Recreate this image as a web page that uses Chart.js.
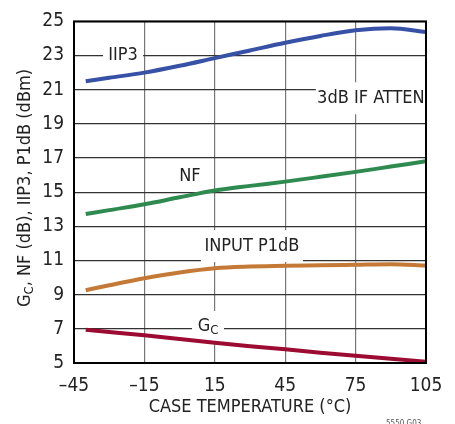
<!DOCTYPE html>
<html>
<head>
<meta charset="utf-8">
<script src="https://cdn.jsdelivr.net/npm/chart.js@4.4.1/dist/chart.umd.min.js"></script>
<style>
  html, body { margin: 0; padding: 0; background: #fff; }
  canvas { display: block; }
</style>
</head>
<body>
<canvas id="c" width="455" height="424"></canvas>
<script>
const temps = [-40, -30, -15, 0, 15, 30, 45, 60, 75, 90, 105];
const iip3 = [21.5, 21.7, 22.0, 22.4, 22.85, 23.3, 23.75, 24.15, 24.48, 24.6, 24.38];
const nf = [13.72, 13.95, 14.29, 14.7, 15.1, 15.37, 15.62, 15.9, 16.19, 16.5, 16.81];
const p1db = [9.26, 9.55, 9.96, 10.3, 10.55, 10.65, 10.7, 10.72, 10.75, 10.78, 10.7];
const gc = [6.95, 6.82, 6.62, 6.4, 6.18, 5.98, 5.8, 5.6, 5.42, 5.25, 5.08];

const xTicks = [-45, -15, 15, 45, 75, 105];
const yTicks = [5, 7, 9, 11, 13, 15, 17, 19, 21, 23, 25];

// in-plot labels: text, anchor (data units), half box size (px)
const labels = [
  { text: 'IIP3', x: -24.1, y: 23.0, bw: 20, bh: 12 },
  { text: '3dB IF ATTEN', x: 81.5, y: 20.5, bw: 55, bh: 16 },
  { text: 'NF', x: 4.4, y: 15.94, bw: 15, bh: 15 },
  { text: 'INPUT P1dB', x: 30.8, y: 11.85, bw: 51, bh: 16 },
  { text: 'G', sub: 'C', x: 12.1, y: 7.17, bw: 16, bh: 15 }
];

const FONT = '"Liberation Sans Narrow", "DejaVu Sans Condensed", "Liberation Sans", sans-serif';
const TXT = '#222';

function pts(ys) { return temps.map((t, i) => ({ x: t, y: ys[i] })); }

const annot = {
  id: 'annot',
  beforeDatasetsDraw(chart) {
    const { ctx, scales: { x, y } } = chart;
    ctx.save();
    ctx.font = '18px ' + FONT;
    ctx.textBaseline = 'middle';
    labels.forEach(l => {
      const px = x.getPixelForValue(l.x), py = y.getPixelForValue(l.y);
      ctx.fillStyle = '#fff';
      ctx.fillRect(px - l.bw, py - l.bh, l.bw * 2, l.bh * 2);
      ctx.fillStyle = TXT;
      if (l.sub) {
        const w = ctx.measureText(l.text).width;
        ctx.font = '13px ' + FONT;
        const ws = ctx.measureText(l.sub).width;
        const sx = px - (w + ws) / 2;
        ctx.font = '18px ' + FONT;
        ctx.textAlign = 'left';
        ctx.fillText(l.text, sx, py);
        ctx.font = '13px ' + FONT;
        ctx.fillText(l.sub, sx + w, py + 5);
        ctx.font = '18px ' + FONT;
      } else {
        ctx.textAlign = 'center';
        ctx.fillText(l.text, px, py);
      }
    });
    ctx.restore();
  },
  afterDraw(chart) {
    const { ctx, chartArea: a } = chart;
    ctx.save();
    ctx.strokeStyle = '#000';
    ctx.lineWidth = 2;
    ctx.strokeRect(a.left, a.top, a.right - a.left, a.bottom - a.top);

    ctx.fillStyle = TXT;
    // x title
    ctx.font = '18px ' + FONT;
    ctx.textAlign = 'center';
    ctx.textBaseline = 'middle';
    ctx.fillText('CASE TEMPERATURE (\u00B0C)', 250, 407);

    // y title with subscript
    ctx.translate(25, 188);
    ctx.rotate(-Math.PI / 2);
    const rest = ', NF (dB), IIP3, P1dB (dBm)';
    ctx.font = '18px ' + FONT;
    const wG = ctx.measureText('G').width;
    const wR = ctx.measureText(rest).width;
    ctx.font = '13px ' + FONT;
    const wC = ctx.measureText('C').width;
    let sx = -(wG + wC + wR) / 2;
    ctx.textAlign = 'left';
    ctx.font = '18px ' + FONT;
    ctx.fillText('G', sx, 0);
    ctx.font = '13px ' + FONT;
    ctx.fillText('C', sx + wG, 5);
    ctx.font = '18px ' + FONT;
    ctx.fillText(rest, sx + wG + wC, 0);
    ctx.restore();

    // figure number, cut off at the bottom edge
    ctx.save();
    ctx.fillStyle = '#555';
    ctx.font = '8px ' + FONT;
    ctx.textAlign = 'left';
    ctx.textBaseline = 'top';
    ctx.fillText('5550 G03', 386, 420);
    ctx.restore();
  }
};

const line = (data, color) => ({
  data: pts(data),
  borderColor: color,
  borderWidth: 4,
  pointRadius: 0,
  fill: false,
  cubicInterpolationMode: 'monotone'
});

new Chart(document.getElementById('c'), {
  type: 'line',
  data: {
    datasets: [
      line(iip3, '#3651a5'),
      line(nf, '#2f8a4f'),
      line(p1db, '#c47a36'),
      line(gc, '#9c0b31')
    ]
  },
  options: {
    responsive: false,
    animation: false,
    layout: { padding: { top: 12, right: 29, left: 0, bottom: 0 } },
    plugins: { legend: { display: false }, tooltip: { enabled: false } },
    scales: {
      x: {
        type: 'linear',
        min: -45, max: 105,
        afterBuildTicks: s => { s.ticks = xTicks.map(v => ({ value: v })); },
        afterFit: s => { s.height = 61; },
        grid: { color: '#777', lineWidth: 1.2, drawTicks: false },
        border: { display: false },
        ticks: {
          padding: 12,
          color: TXT,
          font: { family: FONT, size: 19 },
          maxRotation: 0,
          callback: v => v < 0 ? '\u2013' + Math.abs(v) : '' + v
        }
      },
      y: {
        min: 5, max: 25,
        afterBuildTicks: s => { s.ticks = yTicks.map(v => ({ value: v })); },
        afterFit: s => { s.width = 74; },
        grid: { color: '#333', lineWidth: 1.2, drawTicks: false },
        border: { display: false },
        ticks: {
          padding: 10,
          color: TXT,
          font: { family: FONT, size: 19 }
        }
      }
    }
  },
  plugins: [annot]
});
</script>
</body>
</html>
